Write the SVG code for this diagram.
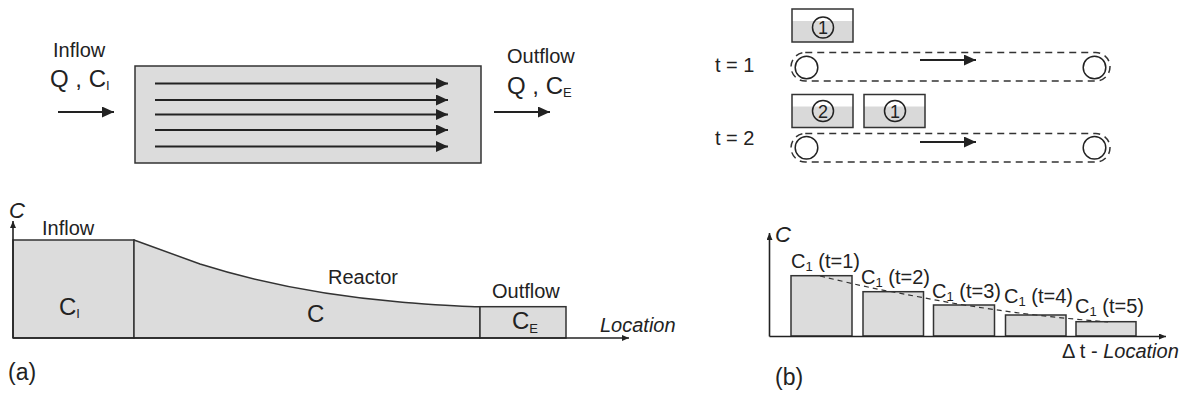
<svg xmlns="http://www.w3.org/2000/svg" width="1184" height="396" viewBox="0 0 1184 396">
  <style>
    text { font-family: "Liberation Sans", Arial, sans-serif; fill: #222; }
    .lbl { font-size: 20px; }
    .big { font-size: 24px; }
    .sub { font-size: 13px; }
    .it { font-style: italic; }
    .fill { fill: #dcdcdc; stroke: #333; stroke-width: 1.5; }
    .line { fill: none; stroke: #222; stroke-width: 2; }
    .axis { fill: none; stroke: #222; stroke-width: 1.6; }
    .belt { fill: none; stroke: #333; stroke-width: 1.5; stroke-dasharray: 7 5; }
    .roll { fill: none; stroke: #222; stroke-width: 1.5; }
    .num { font-size: 18px; text-anchor: middle; }
  </style>
  <defs>
    <marker id="head" viewBox="0 0 12 11" refX="12" refY="5.5" markerWidth="12" markerHeight="11" markerUnits="userSpaceOnUse" orient="auto">
      <path d="M0,0 L12,5.5 L0,11 Z" fill="#222"/>
    </marker>
    <marker id="tip" viewBox="0 0 7 6" refX="7" refY="3" markerWidth="7" markerHeight="6" markerUnits="userSpaceOnUse" orient="auto">
      <path d="M0,0 L7,3 L0,6 Z" fill="#222"/>
    </marker>
  </defs>

  <!-- (a) plug-flow reactor -->
  <g id="reactor">
    <rect class="fill" x="135" y="66" width="346" height="97"/>
  </g>
  <g id="inflow-label">
    <text class="lbl" x="53" y="57">Inflow</text>
    <text class="big" x="50" y="87">Q , C<tspan class="sub" dy="3">I</tspan></text>
  </g>
  <g id="outflow-label">
    <text class="lbl" x="507" y="63">Outflow</text>
    <text class="big" x="507" y="94">Q , C<tspan class="sub" dy="3">E</tspan></text>
  </g>
  <g id="connectors">
    <!-- flow lines through the reactor -->
    <line class="line" x1="155" y1="83.5" x2="448" y2="83.5" marker-end="url(#head)"/>
    <line class="line" x1="155" y1="100" x2="448" y2="100" marker-end="url(#head)"/>
    <line class="line" x1="155" y1="114.5" x2="448" y2="114.5" marker-end="url(#head)"/>
    <line class="line" x1="155" y1="130" x2="448" y2="130" marker-end="url(#head)"/>
    <line class="line" x1="155" y1="146.5" x2="448" y2="146.5" marker-end="url(#head)"/>
    <!-- inlet and outlet -->
    <line class="line" x1="58" y1="112" x2="114" y2="112" marker-end="url(#head)"/>
    <line class="line" x1="494" y1="112" x2="550" y2="112" marker-end="url(#head)"/>
    <!-- conveyor direction -->
    <line class="line" x1="920" y1="60" x2="976" y2="60" marker-end="url(#head)"/>
    <line class="line" x1="920" y1="142" x2="976" y2="142" marker-end="url(#head)"/>
  </g>

  <!-- (a) concentration profile -->
  <g id="profile-a">
    <rect class="fill" x="13" y="240" width="121" height="98"/>
    <path class="fill" d="M134,240 L200,264 C260,283 330,296 400,302 C440,305 460,306.7 480,306.7 L480,338 L134,338 Z"/>
    <rect class="fill" x="480" y="306.7" width="86" height="31.3"/>
    <line class="axis" x1="13" y1="338" x2="13" y2="221" marker-end="url(#tip)"/>
    <line class="axis" x1="13" y1="338" x2="629" y2="338" marker-end="url(#tip)"/>
    <text class="lbl it" x="9" y="218" style="font-size:22px">C</text>
    <text class="lbl" x="42" y="235">Inflow</text>
    <text class="big" x="59" y="315">C<tspan class="sub" dy="3">I</tspan></text>
    <text class="lbl" x="328" y="284">Reactor</text>
    <text class="big" x="307" y="322">C</text>
    <text class="lbl" x="492" y="298">Outflow</text>
    <text class="big" x="512" y="329">C<tspan class="sub" dy="4">E</tspan></text>
    <text class="lbl it" x="600" y="332">Location</text>
    <text class="big" x="8" y="380" style="font-size:23px">(a)</text>
  </g>

  <!-- (b) conveyor at t = 1 -->
  <g id="belt-t1">
    <text class="lbl" x="715" y="72">t = 1</text>
    <rect x="792" y="9" width="61" height="33" fill="#d9d9d9" stroke="none"/>
    <rect x="792" y="9" width="61" height="12" fill="#fff" stroke="none"/>
    <rect x="792" y="9" width="61" height="33" fill="none" stroke="#333" stroke-width="1.5"/>
    <circle class="roll" cx="823" cy="27.5" r="10.5"/>
    <text class="num" x="823" y="34">1</text>
    <rect class="belt" x="791" y="52.5" width="319" height="28.5" rx="14.25"/>
    <circle class="roll" cx="806.5" cy="67.5" r="11.3"/>
    <circle class="roll" cx="1094.5" cy="67.5" r="11.3"/>
  </g>

  <!-- (b) conveyor at t = 2 -->
  <g id="belt-t2">
    <text class="lbl" x="715" y="145">t = 2</text>
    <rect x="792" y="94.5" width="61" height="33" fill="#d9d9d9" stroke="none"/>
    <rect x="792" y="94.5" width="61" height="12" fill="#fff" stroke="none"/>
    <rect x="792" y="94.5" width="61" height="33" fill="none" stroke="#333" stroke-width="1.5"/>
    <circle class="roll" cx="823" cy="111" r="10.5"/>
    <text class="num" x="823" y="117.5">2</text>
    <rect x="864" y="94.5" width="61" height="33" fill="#d9d9d9" stroke="none"/>
    <rect x="864" y="94.5" width="61" height="12" fill="#fff" stroke="none"/>
    <rect x="864" y="94.5" width="61" height="33" fill="none" stroke="#333" stroke-width="1.5"/>
    <circle class="roll" cx="895" cy="111" r="10.5"/>
    <text class="num" x="895" y="117.5">1</text>
    <rect class="belt" x="791" y="133.5" width="319" height="28.5" rx="14.25"/>
    <circle class="roll" cx="806.5" cy="147.7" r="11.3"/>
    <circle class="roll" cx="1094.5" cy="147.7" r="11.3"/>
  </g>

  <!-- (b) batch concentrations -->
  <g id="profile-b">
    <rect class="fill" x="791" y="275.7" width="61" height="60.3"/>
    <rect class="fill" x="863" y="291.7" width="60.5" height="44.3"/>
    <rect class="fill" x="933.5" y="305" width="61" height="31"/>
    <rect class="fill" x="1005.5" y="315" width="60.5" height="21"/>
    <rect class="fill" x="1076" y="321.7" width="60" height="14.3"/>
    <path d="M820,276 C850,283 870,288 893,292 C920,297 940,301 964,305 C990,309 1010,312 1036,315 C1060,318 1085,320 1108,322" fill="none" stroke="#333" stroke-width="1.2" stroke-dasharray="5 4"/>
    <line class="axis" x1="769.5" y1="336.5" x2="769.5" y2="233" marker-end="url(#tip)"/>
    <line class="axis" x1="769.5" y1="336.5" x2="1166" y2="336.5" marker-end="url(#tip)"/>
    <text class="it" x="775" y="242" style="font-size:22px">C</text>
    <text class="lbl" x="791" y="268">C<tspan class="sub" dy="3">1</tspan><tspan dy="-3"> (t=1)</tspan></text>
    <text class="lbl" x="861" y="284">C<tspan class="sub" dy="3">1</tspan><tspan dy="-3"> (t=2)</tspan></text>
    <text class="lbl" x="932" y="298">C<tspan class="sub" dy="3">1</tspan><tspan dy="-3"> (t=3)</tspan></text>
    <text class="lbl" x="1004" y="303">C<tspan class="sub" dy="3">1</tspan><tspan dy="-3"> (t=4)</tspan></text>
    <text class="lbl" x="1075" y="313">C<tspan class="sub" dy="3">1</tspan><tspan dy="-3"> (t=5)</tspan></text>
    <text class="lbl" x="1062" y="358">Δ t - <tspan class="it">Location</tspan></text>
    <text class="big" x="775" y="385" style="font-size:23px">(b)</text>
  </g>
</svg>
